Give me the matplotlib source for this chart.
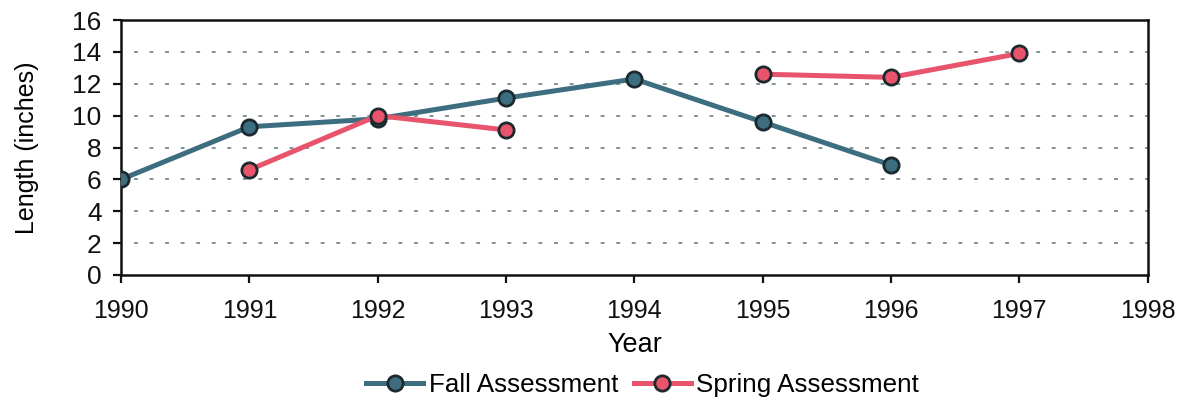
import matplotlib
matplotlib.use("Agg")
import matplotlib.pyplot as plt

plt.rcParams['font.family'] = ['Liberation Sans', 'DejaVu Sans']

years = [1990, 1991, 1992, 1993, 1994, 1995, 1996, 1997, 1998]
fall_years = [1990, 1991, 1992, 1993, 1994, 1995, 1996]
fall_len = [6.0, 9.3, 9.8, 11.1, 12.3, 9.6, 6.9]
spring_years_a = [1991, 1992, 1993]
spring_len_a = [6.6, 10.0, 9.1]
spring_years_b = [1995, 1996, 1997]
spring_len_b = [12.6, 12.4, 13.9]
y_ticks = [0, 2, 4, 6, 8, 10, 12, 14, 16]

fall_color = '#3d6e80'
spring_color = '#e8546c'
edge = '#1c2a30'

fig = plt.figure(figsize=(11.88, 4.0), dpi=100)
ax = fig.add_axes([0.102, 0.3125, 0.864, 0.6375])

# dotted horizontal guides at the inner y ticks
for y in y_ticks[1:-1]:
    ax.plot([1990.1, 1998], [y, y], color='#7d9696', lw=1.4,
            linestyle=(0, (2, 6)), zorder=1)

mk = dict(marker='o', markersize=11, markeredgecolor=edge, markeredgewidth=2.0)
ax.plot(fall_years, fall_len, color=fall_color, lw=3.6, zorder=3,
        markerfacecolor=fall_color, label='Fall Assessment', **mk)
ax.plot(spring_years_a, spring_len_a, color=spring_color, lw=3.6, zorder=4,
        markerfacecolor=spring_color, label='Spring Assessment', **mk)
ax.plot(spring_years_b, spring_len_b, color=spring_color, lw=3.6, zorder=4,
        markerfacecolor=spring_color, **mk)

ax.set_xlim(1990, 1998)
ax.set_ylim(0, 16)
ax.set_xticks(years)
ax.set_xticklabels([str(y) for y in years])
ax.set_yticks(y_ticks)
for s in ax.spines.values():
    s.set_linewidth(1.8)
    s.set_color('#111111')
ax.tick_params(axis='both', direction='out', length=6, width=1.6,
               labelsize=18, colors='#111111')
ax.tick_params(axis='y', labelsize=19, pad=8)
ax.tick_params(axis='x', pad=11)
ax.set_xlabel('Year', fontsize=19.5, labelpad=7)
ax.set_ylabel('Length (inches)', fontsize=18, labelpad=24)

ax.legend(loc='center', bbox_to_anchor=(0.508, -0.43), ncol=2,
          frameon=False, fontsize=18.7, handlelength=2.2, columnspacing=0.6,
          handletextpad=0.2, borderaxespad=0, borderpad=0)

fig.savefig('out.png', dpi=100, facecolor='white')
